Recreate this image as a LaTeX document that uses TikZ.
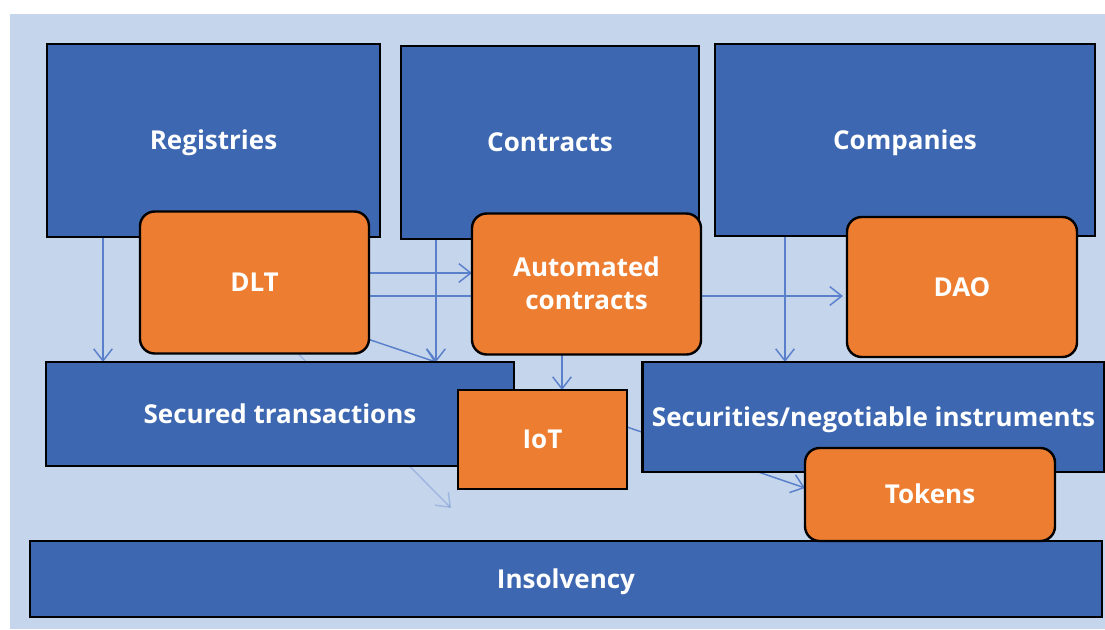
\documentclass[tikz,border=0pt]{standalone}
\usepackage{fontspec}
\setmainfont{Open Sans}
\usetikzlibrary{arrows.meta,calc}
\definecolor{bgblue}{HTML}{C5D5EC}
\definecolor{boxblue}{HTML}{3D68B1}
\definecolor{boxorange}{HTML}{ED7D31}
\definecolor{arrblue}{HTML}{5A7FCB}
\pgfdeclarelayer{bg}
\pgfdeclarelayer{arrows}
\pgfsetlayers{bg,arrows,main}
\tikzset{
  sz/.style 2 args={minimum width=#1*0.75pt, minimum height=#2*0.75pt},
  basebox/.style={draw=black, line width=1.8pt, inner sep=0pt, outer sep=0pt,
    text=white, font=\bfseries\fontsize{19.5}{25}\selectfont, align=center,
    text height=13.9pt, text depth=0pt},
  bluebox/.style={basebox, fill=boxblue},
  orangebox/.style={basebox, fill=boxorange, rounded corners=11pt},
  sqorange/.style={basebox, fill=boxorange},
  arr/.style={draw=arrblue, line width=1.1pt, -{Straight Barb[length=9pt,width=14pt,line width=1.1pt]}},
  faint/.style={arr, draw opacity=0.35}
}
\begin{document}
\begin{tikzpicture}[x=0.75pt, y=-0.75pt]
\useasboundingbox (0,0) rectangle (1105,629);
\begin{pgfonlayer}{bg}
\fill[bgblue] (10,14) rectangle (1105,629);
\end{pgfonlayer}
% top row
\node[bluebox, sz={333}{193}] (reg) at (213.5,140.5) {Registries};
\node[bluebox, sz={298}{193}] (con) at (550,142.5) {Contracts};
\node[bluebox, sz={380}{192}] (comp) at (905,140) {Companies};
% middle blue
\node[bluebox, sz={468}{104}] (st) at (280,414) {Secured transactions};
\node[bluebox, sz={462}{110}] (sec) at (873.5,417) {Securities/negotiable instruments};
\node[bluebox, sz={1072}{76}] (ins) at (566,579) {Insolvency};
% orange
\node[orangebox, sz={229}{142}] (dlt) at (254.5,282.5) {DLT};
\node[orangebox, sz={229}{141}, text height=38.9pt] (auto) at (586.5,284) {Automated\\contracts};
\node[orangebox, sz={230}{140}] (dao) at (962,287) {DAO};
\node[sqorange, sz={169}{99}] (iot) at (542.5,439.5) {IoT};
\node[orangebox, sz={250}{93}] (tok) at (930,494.5) {Tokens};
% connectors
\path ($(reg.south west)+(56,0)$) coordinate (r1);
\path ($(con.south west)+(35,0)$) coordinate (c1);
\path ($(dlt.east)+(0,-9.5)$) coordinate (d1);
\path ($(dlt.east)+(0,13.5)$) coordinate (d2);
\path ($(dlt.south east)+(0,-14)$) coordinate (d3);
\path ($(dlt.south)+(43.5,0)$) coordinate (d4);
\coordinate (f1) at (451,508);
\path ($(auto.south)+(-24.5,0)$) coordinate (a1);
\path ($(comp.south west)+(70,0)$) coordinate (m1);
\path ($(iot.east)+(0,-12.5)$) coordinate (i1);
\path ($(tok.west)+(0,-6.5)$) coordinate (t1);
\begin{pgfonlayer}{arrows}
\draw[arr] (r1) -- (r1 |- st.north);
\draw[arr] (c1) -- (c1 |- st.north);
\draw[arr] (d1) -- (d1 -| auto.west);
\draw[arr] (d2) -- ($(d2 -| dao.west)+(-4,0)$);
\draw[arr] (d3) -- (c1 |- st.north);
\draw[faint] (d4) -- (f1);
\draw[arr] (a1) -- (a1 |- iot.north);
\draw[arr] (m1) -- (m1 |- sec.north);
\draw[arr] (i1) -- (t1);
\end{pgfonlayer}
\end{tikzpicture}
\end{document}
